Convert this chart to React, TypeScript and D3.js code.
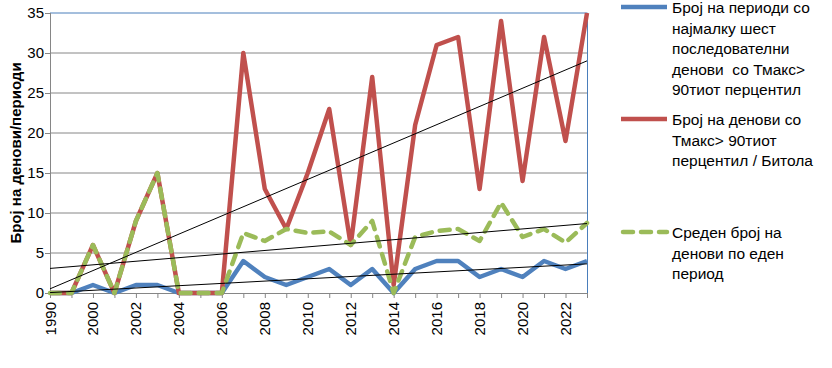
import React, { useEffect, useRef } from 'react';
import * as d3 from 'd3';

// categories: the first label in the original reads 1990
const years = ['1990', '1999', '2000', '2001', '2002', '2003', '2004', '2005', '2006', '2007', '2008', '2009', '2010',
  '2011', '2012', '2013', '2014', '2015', '2016', '2017', '2018', '2019', '2020', '2021', '2022', '2023'];

const periods = [0, 0, 1, 0, 1, 1, 0, 0, 0, 4, 2, 1, 2, 3, 1, 3, 0, 3, 4, 4, 2, 3, 2, 4, 3, 4];
const days = [0, 0, 6, 0, 9, 15, 0, 0, 0, 30, 13, 8, 15, 23, 6, 27, 1, 21, 31, 32, 13, 34, 14, 32, 19, 35];
const avgDays = [0, 0, 6, 0, 9, 15, 0, 0, 0, 7.5, 6.5, 8, 7.5, 7.7, 6, 9, 0, 7, 7.75, 8, 6.5, 11.3, 7, 8, 6.3, 8.75];

const yTicks = [0, 5, 10, 15, 20, 25, 30, 35];

const series = [
  { name: 'periods', values: periods, color: '#4F81BD', dash: null,
    label: ['Број на периоди со', 'најмалку шест', 'последователни', 'денови  со Тмакс>', '90тиот перцентил'] },
  { name: 'days', values: days, color: '#C0504D', dash: null,
    label: ['Број на денови со', 'Тмакс> 90тиот', 'перцентил / Битола'] },
  { name: 'avg', values: avgDays, color: '#9BBB59', dash: '10 8',
    label: ['Среден број на', 'денови по еден', 'период'] },
];

const W = 832;
const H = 368;
const font = '"Liberation Sans", Arial, sans-serif';

// least squares trend, like excel's linear trendline
function trend(vals: number[]) {
  const n = vals.length;
  const xm = (n - 1) / 2;
  const ym = d3.mean(vals) as number;
  let sxy = 0, sxx = 0;
  vals.forEach((v, i) => { sxy += (i - xm) * (v - ym); sxx += (i - xm) * (i - xm); });
  const b = sxy / sxx;
  return [ym - b * xm, ym + b * (n - 1 - xm)];
}

export default function App() {
  const ref = useRef<SVGSVGElement>(null);

  useEffect(() => {
    const svg = d3.select(ref.current);
    svg.selectAll('*').remove();

    const x = d3.scalePoint<string>().domain(years).range([50, 587]);
    const y = d3.scaleLinear().domain([0, 35]).range([293, 13]);

    // gridlines
    svg.append('g').selectAll('line')
      .data(yTicks.filter(t => t > 0 && t < 35))
      .enter().append('line')
      .attr('x1', 50).attr('x2', 587)
      .attr('y1', d => y(d)).attr('y2', d => y(d))
      .attr('stroke', '#868686').attr('stroke-width', 1);

    // plot border top/right
    svg.append('line').attr('x1', 50).attr('x2', 587.5).attr('y1', y(35)).attr('y2', y(35))
      .attr('stroke', '#4A7EBB');
    svg.append('line').attr('x1', 587.5).attr('x2', 587.5).attr('y1', y(35)).attr('y2', y(0))
      .attr('stroke', '#4A7EBB');

    // y axis
    svg.append('line').attr('x1', 50.5).attr('x2', 50.5).attr('y1', y(35)).attr('y2', y(0) + 5)
      .attr('stroke', '#868686');
    svg.append('g').selectAll('line')
      .data(yTicks).enter().append('line')
      .attr('x1', 45).attr('x2', 50)
      .attr('y1', d => y(d) + 0.5).attr('y2', d => y(d) + 0.5)
      .attr('stroke', '#868686');
    svg.append('g').selectAll('text')
      .data(yTicks).enter().append('text')
      .attr('x', 44).attr('y', d => y(d))
      .attr('dy', '0.35em')
      .attr('text-anchor', 'end')
      .style('font-family', font).style('font-size', '15px')
      .text(d => d);

    // x axis
    svg.append('line').attr('x1', 50).attr('x2', 587.5).attr('y1', y(0) + 0.5).attr('y2', y(0) + 0.5)
      .attr('stroke', '#868686');
    svg.append('g').selectAll('line')
      .data(years).enter().append('line')
      .attr('x1', d => x(d)! + 0.5).attr('x2', d => x(d)! + 0.5)
      .attr('y1', y(0)).attr('y2', y(0) + 5)
      .attr('stroke', '#868686');
    svg.append('g').selectAll('text')
      .data(years.filter((d, i) => i % 2 === 0))
      .enter().append('text')
      .attr('transform', d => `translate(${x(d)! + 5.5},${y(0) + 9}) rotate(-90)`)
      .attr('text-anchor', 'end')
      .style('font-family', font).style('font-size', '15px')
      .text(d => d);

    // y title
    svg.append('text')
      .attr('transform', `translate(21,${(y(0) + y(35)) / 2}) rotate(-90)`)
      .attr('text-anchor', 'middle')
      .style('font-family', font).style('font-size', '15px').style('font-weight', 'bold')
      .text('Број на денови/периоди');

    const line = d3.line<number>()
      .x((d, i) => x(years[i])!)
      .y(d => y(d));

    series.forEach(s => {
      svg.append('path')
        .attr('d', line(s.values))
        .attr('fill', 'none')
        .attr('stroke', s.color)
        .attr('stroke-width', 4.5)
        .attr('stroke-linejoin', 'round')
        .attr('stroke-linecap', s.dash ? 'round' : 'butt')
        .attr('stroke-dasharray', s.dash);
    });

    // trend lines
    series.forEach(s => {
      const [a, b] = trend(s.values);
      svg.append('line')
        .attr('x1', x(years[0])!).attr('y1', y(a))
        .attr('x2', x(years[years.length - 1])!).attr('y2', y(b))
        .attr('stroke', '#000').attr('stroke-width', 1);
    });

    // legend
    const legendY = [7, 119, 232];
    series.forEach((s, k) => {
      const g = svg.append('g').attr('transform', `translate(621,${legendY[k]})`);
      g.append('line')
        .attr('x1', s.dash ? 2 : 0).attr('x2', 46)
        .attr('y1', 0).attr('y2', 0)
        .attr('stroke', s.color).attr('stroke-width', 4.5)
        .attr('stroke-linecap', s.dash ? 'round' : 'butt')
        .attr('stroke-dasharray', s.dash);
      g.selectAll('text')
        .data(s.label).enter().append('text')
        .attr('x', 51).attr('y', (d, i) => 1 + i * 20.5)
        .attr('dy', '0.35em')
        .style('font-family', font).style('font-size', '15.5px')
        .style('white-space', 'pre')
        .text(d => d);
    });
  }, []);

  return (
    <svg ref={ref} width={W} height={H} style={{ position: 'absolute', left: 0, top: 0, background: '#fff' }} />
  );
}
